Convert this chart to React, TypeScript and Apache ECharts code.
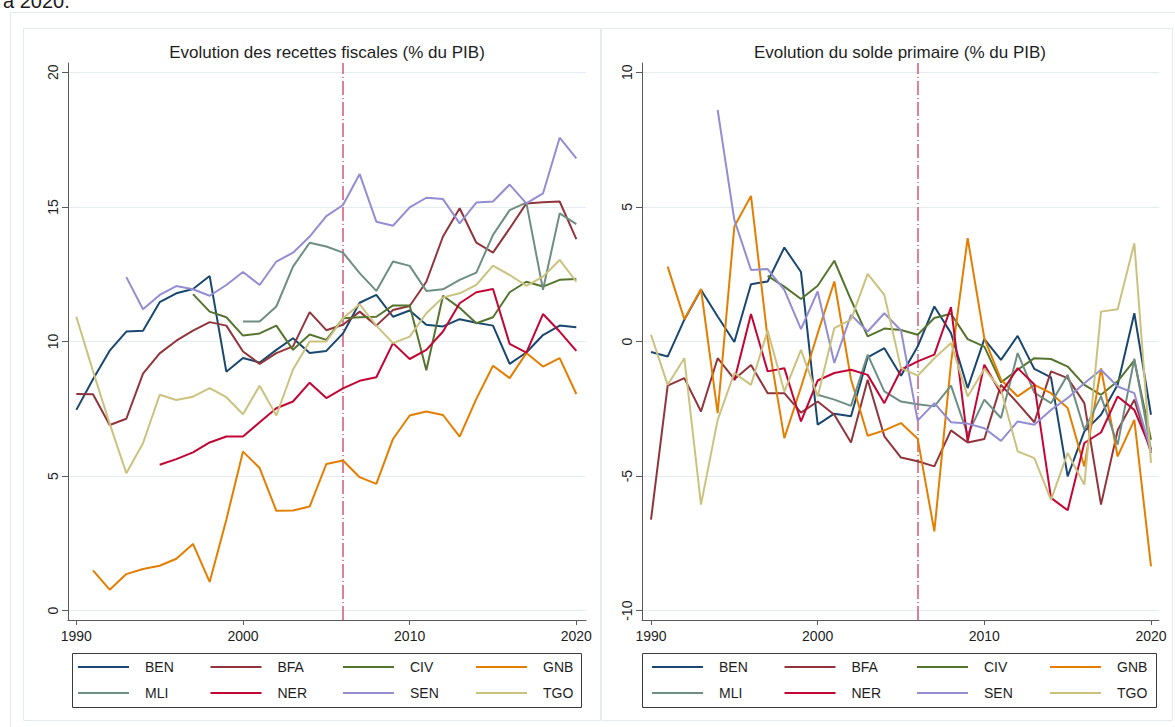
import React, { useEffect, useRef } from "react";
import * as echarts from "echarts";

const YEARS = [
  1990, 1991, 1992, 1993, 1994, 1995, 1996, 1997, 1998, 1999, 2000, 2001, 2002, 2003, 2004, 2005,
  2006, 2007, 2008, 2009, 2010, 2011, 2012, 2013, 2014, 2015, 2016, 2017, 2018, 2019, 2020,
];
const COUNTRIES = ["BEN", "BFA", "CIV", "GNB", "MLI", "NER", "SEN", "TGO"];
const COLORS = ["#1a476f", "#90353b", "#55752f", "#e37e00", "#6e8e84", "#c10534", "#938dd2", "#cac27e"];
const TITLE_LEFT = "Evolution des recettes fiscales (% du PIB)";
const TITLE_RIGHT = "Evolution du solde primaire (% du PIB)";
const TOP_TEXT = "à 2020.";
const X_TICKS = [1990, 2000, 2010, 2020];
const Y_TICKS_LEFT = [0, 5, 10, 15, 20];
const Y_TICKS_RIGHT = [-10, -5, 0, 5, 10];
const REFORM_YEAR = 2006;

// Recettes fiscales (% du PIB), 1990-2020
const BEN_REV = [7.46, 8.6, 9.66, 10.37, 10.4, 11.46, 11.79, 11.95, 12.43, 8.88, 9.39, 9.22, 9.69, 10.12, 9.57, 9.65, 10.3, 11.44, 11.73, 10.92, 11.15, 10.62, 10.56, 10.83, 10.7, 10.59, 9.17, 9.59, 10.24, 10.59, 10.53];
const BFA_REV = [8.05, 8.04, 6.9, 7.13, 8.81, 9.56, 10.03, 10.4, 10.72, 10.59, 9.63, 9.17, 9.57, 9.82, 11.09, 10.42, 10.62, 11.11, 10.59, 11.17, 11.32, 12.22, 13.9, 14.95, 13.67, 13.3, 14.2, 15.13, 15.17, 15.2, 13.8];
const CIV_REV = [null, null, null, null, null, null, null, 11.76, 11.11, 10.9, 10.22, 10.3, 10.59, 9.69, 10.26, 10.06, 10.86, 10.9, 10.92, 11.34, 11.34, 8.93, 11.7, 11.25, 10.68, 10.9, 11.83, 12.22, 12.04, 12.29, 12.32];
const GNB_REV = [null, 1.5, 0.78, 1.36, 1.55, 1.67, 1.93, 2.48, 1.07, 3.38, 5.91, 5.3, 3.71, 3.72, 3.87, 5.45, 5.58, 4.96, 4.71, 6.38, 7.25, 7.4, 7.27, 6.47, 7.87, 9.1, 8.64, 9.57, 9.07, 9.38, 8.05];
const MLI_REV = [null, null, null, null, null, null, null, null, null, null, 10.74, 10.74, 11.3, 12.78, 13.67, 13.53, 13.3, 12.54, 11.88, 12.97, 12.81, 11.88, 11.94, 12.29, 12.56, 13.96, 14.88, 15.16, 11.92, 14.76, 14.36];
const NER_REV = [null, null, null, null, null, 5.42, 5.63, 5.88, 6.25, 6.47, 6.47, 7.0, 7.52, 7.77, 8.47, 7.9, 8.26, 8.54, 8.67, 9.94, 9.35, 9.69, 10.37, 11.42, 11.83, 11.95, 9.91, 9.59, 11.02, 10.37, 9.65];
const SEN_REV = [null, null, null, 12.39, 11.2, 11.73, 12.06, 11.94, 11.7, 12.1, 12.58, 12.1, 12.97, 13.3, 13.9, 14.66, 15.07, 16.22, 14.45, 14.3, 14.98, 15.34, 15.29, 14.39, 15.16, 15.2, 15.83, 15.13, 15.5, 17.57, 16.8];
const TGO_REV = [10.92, 8.9, 6.95, 5.11, 6.22, 8.02, 7.83, 7.95, 8.27, 7.93, 7.3, 8.36, 7.25, 8.96, 10.0, 10.0, 10.86, 11.38, 10.59, 9.94, 10.18, 11.05, 11.64, 11.79, 12.1, 12.82, 12.47, 12.07, 12.41, 13.03, 12.22];

// Solde primaire (% du PIB), 1990-2020
const BEN_BAL = [-0.39, -0.56, 0.81, 1.92, 0.93, -0.02, 2.13, 2.23, 3.49, 2.58, -3.09, -2.68, -2.78, -0.59, -0.25, -1.27, -0.19, 1.3, 0.31, -1.73, 0.09, -0.68, 0.21, -1.02, -1.33, -5.01, -3.34, -2.72, -1.61, 1.05, -2.72];
const BFA_BAL = [-6.62, -1.64, -1.36, -2.6, -0.62, -1.4, -0.87, -1.92, -1.92, -2.64, -2.23, -2.72, -3.75, -1.42, -3.52, -4.31, -4.45, -4.64, -3.3, -3.75, -3.62, -1.61, -2.29, -3.0, -1.11, -1.36, -2.29, -6.06, -3.3, -2.16, -4.14];
const CIV_BAL = [null, null, null, null, null, null, null, 2.44, 2.04, 1.58, 2.07, 3.0, 1.55, 0.19, 0.48, 0.43, 0.25, 0.87, 1.03, 0.09, -0.19, -1.52, -1.05, -0.62, -0.65, -0.93, -1.61, -1.98, -1.48, -0.7, -3.65];
const GNB_BAL = [null, 2.78, 0.83, 1.95, -2.66, 4.27, 5.41, 0.1, -3.59, -1.7, 0.3, 2.23, -1.4, -3.5, -3.3, -3.03, -3.61, -7.05, -0.8, 3.84, 0.12, -1.42, -2.04, -1.61, -1.92, -2.47, -4.64, -1.0, -4.27, -2.91, -8.35];
const MLI_BAL = [null, null, null, null, null, null, null, null, null, null, -1.98, -2.16, -2.39, -0.49, -1.85, -2.23, -2.33, -2.41, -1.64, -3.46, -2.16, -2.84, -0.43, -1.9, -2.29, -1.24, -3.28, -2.04, -3.83, -0.64, -4.02];
const NER_BAL = [null, null, null, null, null, -1.45, 1.02, -1.11, -0.99, -2.97, -1.45, -1.17, -1.05, -1.24, -2.29, -1.05, -0.74, -0.49, 1.28, -3.71, -0.86, -1.92, -0.99, -1.6, -5.81, -6.27, -3.77, -3.38, -2.04, -2.54, -4.02];
const SEN_BAL = [null, null, null, null, 8.6, 4.52, 2.66, 2.69, 1.92, 0.46, 1.86, -0.8, 0.99, 0.37, 1.05, 0.41, -2.94, -2.29, -3.0, -3.05, -3.22, -3.69, -2.97, -3.09, -2.54, -2.1, -1.55, -1.05, -1.67, -1.92, -4.08];
const TGO_BAL = [0.25, -1.61, -0.62, -6.06, -2.91, -1.17, -1.61, 0.41, -1.86, -0.31, -2.04, 0.5, 0.81, 2.51, 1.73, -0.99, -1.27, -0.62, -0.06, -2.04, -1.02, -1.79, -4.08, -4.33, -5.88, -4.14, -5.32, 1.11, 1.2, 3.65, -4.51];

const REVENUE = [BEN_REV, BFA_REV, CIV_REV, GNB_REV, MLI_REV, NER_REV, SEN_REV, TGO_REV];
const BALANCE = [BEN_BAL, BFA_BAL, CIV_BAL, GNB_BAL, MLI_BAL, NER_BAL, SEN_BAL, TGO_BAL];

const FONT = '"Liberation Sans", Arial, Helvetica, sans-serif';
const AXIS_COLOR = "#5a5a5a";
const GRID_COLOR = "#e3ecee";
const TEXT_COLOR = "#1e1e1e";
const BORDER_COLOR = "#e4ebee";

function toPoints(vals: (number | null)[]) {
  const pts: [number, number][] = [];
  YEARS.forEach((y, i) => {
    const v = vals[i];
    if (v !== null && v !== undefined) pts.push([y, v]);
  });
  return pts;
}

const plainNumber = (v: number) => String(Math.round(v));

function buildOption() {
  const panels = [
    { grid: { left: 68, top: 63, width: 518, height: 557 }, xMin: 1989.5, xMax: 2020.58, yMin: -0.345, yMax: 20.345, yTicks: Y_TICKS_LEFT, data: REVENUE, title: TITLE_LEFT, titleX: 327, legLeft: [78, 210.5, 343, 476], box: [72, 653, 509, 54] },
    { grid: { left: 642, top: 63, width: 517, height: 557 }, xMin: 1989.46, xMax: 2020.48, yMin: -10.345, yMax: 10.345, yTicks: Y_TICKS_RIGHT, data: BALANCE, title: TITLE_RIGHT, titleX: 900, legLeft: [652, 784.5, 917, 1050], box: [642, 653, 514, 54] },
  ];

  const grids: any[] = [];
  const xAxes: any[] = [];
  const yAxes: any[] = [];
  const series: any[] = [];
  const legends: any[] = [];
  const graphics: any[] = [
    { type: "rect", z: -20, shape: { x: 10.5, y: 12.5, width: 1170, height: 720 }, style: { fill: "#ffffff", stroke: BORDER_COLOR, lineWidth: 1 } },
    { type: "rect", z: -19, shape: { x: 23.5, y: 28.5, width: 577, height: 692 }, style: { fill: "#ffffff", stroke: BORDER_COLOR, lineWidth: 1 } },
    { type: "rect", z: -19, shape: { x: 601.5, y: 28.5, width: 571, height: 692 }, style: { fill: "#ffffff", stroke: BORDER_COLOR, lineWidth: 1 } },
    { type: "text", x: 3, y: 1, style: { text: TOP_TEXT, fontSize: 20, fontFamily: FONT, fill: "#1a1a1a", verticalAlign: "middle", align: "left" } },
  ];

  panels.forEach((p, pi) => {
    grids.push({ ...p.grid, containLabel: false, outerBoundsMode: "none", show: false });
    xAxes.push({
      gridIndex: pi,
      type: "value",
      min: p.xMin,
      max: p.xMax,
      axisLine: { show: true, onZero: false, lineStyle: { color: AXIS_COLOR, width: 1 } },
      axisTick: { show: true, length: 5, customValues: X_TICKS, lineStyle: { color: AXIS_COLOR } },
      axisLabel: { show: true, customValues: X_TICKS, formatter: plainNumber, margin: 9, fontSize: 14, color: TEXT_COLOR, fontFamily: FONT },
      splitLine: { show: false },
    });
    yAxes.push({
      gridIndex: pi,
      type: "value",
      min: p.yMin,
      max: p.yMax,
      axisLine: { show: true, onZero: false, lineStyle: { color: AXIS_COLOR, width: 1 } },
      axisTick: { show: true, length: 6, customValues: p.yTicks, lineStyle: { color: AXIS_COLOR } },
      axisLabel: { show: true, customValues: p.yTicks, formatter: plainNumber, rotate: 90, margin: 8, fontSize: 14, color: TEXT_COLOR, fontFamily: FONT },
      splitLine: { show: true, lineStyle: { color: GRID_COLOR, width: 1 } },
    });
    p.data.forEach((vals, ci) => {
      const s: any = {
        type: "line",
        name: COUNTRIES[ci],
        xAxisIndex: pi,
        yAxisIndex: pi,
        data: toPoints(vals),
        symbol: "none",
        showSymbol: false,
        silent: true,
        lineStyle: { width: 2, color: COLORS[ci] },
        itemStyle: { color: COLORS[ci] },
        color: COLORS[ci],
        z: 3,
      };
      if (ci === 0) {
        s.markLine = {
          silent: true,
          symbol: ["none", "none"],
          label: { show: false },
          lineStyle: { color: "#cf5a78", width: 1.5, type: [14, 3, 1, 3] },
          data: [{ xAxis: REFORM_YEAR }],
          z: 2,
        };
      }
      series.push(s);
    });
    for (let c = 0; c < 4; c++) {
      legends.push({
        data: [COUNTRIES[c], COUNTRIES[c + 4]],
        orient: "vertical",
        left: p.legLeft[c],
        top: 659,
        padding: 0,
        itemGap: 10,
        itemWidth: 51,
        itemHeight: 2,
        icon: "rect",
        selectedMode: false,
        textStyle: { fontSize: 14, color: TEXT_COLOR, fontFamily: FONT, lineHeight: 16, padding: [0, 0, 0, 11] },
      });
    }
    graphics.push({
      type: "text",
      x: p.titleX,
      y: 52,
      style: { text: p.title, fontSize: 17, fontFamily: FONT, fill: TEXT_COLOR, align: "center", verticalAlign: "middle" },
    });
    graphics.push({
      type: "rect",
      z: -5,
      shape: { x: p.box[0] + 0.5, y: p.box[1] + 0.5, width: p.box[2], height: p.box[3] },
      style: { fill: "#ffffff", stroke: "#3a3a3a", lineWidth: 1 },
    });
  });

  return {
    animation: false,
    backgroundColor: "#ffffff",
    textStyle: { fontFamily: FONT },
    color: COLORS,
    grid: grids,
    xAxis: xAxes,
    yAxis: yAxes,
    legend: legends,
    series,
    graphic: graphics,
  };
}

export default function App() {
  const ref = useRef<HTMLDivElement>(null);
  useEffect(() => {
    if (!ref.current) return;
    const chart = echarts.init(ref.current, null, { renderer: "svg" });
    chart.setOption(buildOption() as any);
    return () => {
      chart.dispose();
    };
  }, []);
  return (
    <div
      ref={ref}
      style={{ position: "absolute", left: 0, top: 0, width: 1175, height: 727, background: "#ffffff" }}
    />
  );
}
